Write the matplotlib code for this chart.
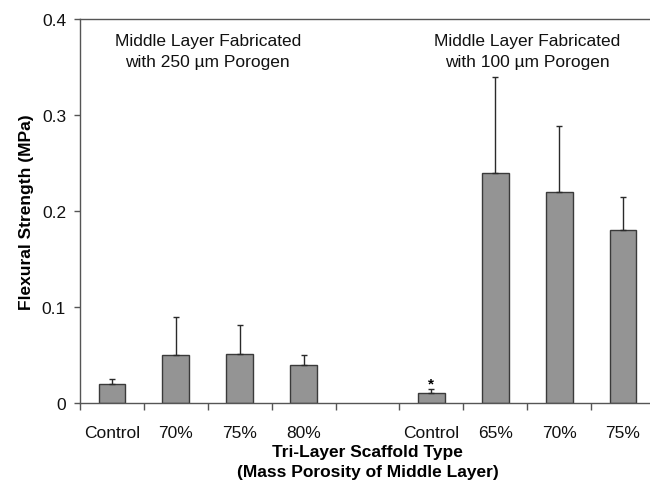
import numpy as np
import matplotlib
matplotlib.use("Agg")
import matplotlib.pyplot as plt

plt.rcParams['font.family'] = ['Liberation Sans', 'DejaVu Sans']

# Scaffold groups (empty slot separates the two porogen sizes)
categories = ["Control", "70%", "75%", "80%", "", "Control", "65%", "70%", "75%"]
strength = [0.020, 0.050, 0.051, 0.040, np.nan, 0.010, 0.240, 0.220, 0.180]
strength_sd = [0.005, 0.040, 0.030, 0.010, np.nan, 0.005, 0.100, 0.069, 0.035]
group_notes = ["Middle Layer Fabricated\nwith 250 µm Porogen",
               "Middle Layer Fabricated\nwith 100 µm Porogen"]
significant = [5]

fig = plt.figure(figsize=(6.5, 4.81), dpi=100)
ax = fig.add_axes([80 / 650, 1 - 404 / 481, 575 / 650, 384 / 481])

x = np.arange(len(categories))
vals = np.array(strength, dtype=float)
errs = np.array(strength_sd, dtype=float)
mask = ~np.isnan(vals)

ax.bar(x[mask], vals[mask], width=0.42, color="#949494", edgecolor="#3a3a3a",
       linewidth=1.0, zorder=2)
ax.errorbar(x[mask], vals[mask], yerr=[np.zeros(mask.sum()), errs[mask]],
            fmt="none", ecolor="#2a2a2a", elinewidth=1.0, capsize=2.5,
            capthick=1.0, zorder=3)

for i in significant:
    ax.annotate("*", (x[i], vals[i] + errs[i]), xytext=(0, -1),
                textcoords="offset points", ha="center", va="bottom",
                fontsize=11, fontweight="bold")

ax.set_xlim(-0.5, len(categories) - 0.5)
ax.set_ylim(0, 0.4)
ax.set_yticks([0, 0.1, 0.2, 0.3, 0.4])
ax.set_yticklabels(["0", "0.1", "0.2", "0.3", "0.4"])

ax.set_xticks(x)
ax.set_xticklabels(categories)
ax.set_xticks(np.arange(len(categories) + 1) - 0.5, minor=True)
ax.tick_params(axis="x", which="major", length=0, pad=16, labelsize=12.5,
               colors="#111111")
ax.tick_params(axis="x", which="minor", length=5, width=1, color="#555555",
               direction="out")
ax.tick_params(axis="y", length=4, width=1, color="#555555", pad=6,
               labelsize=12.5, labelcolor="#111111")

for side in ["left", "bottom", "top", "right"]:
    ax.spines[side].set_color("#555555")
    ax.spines[side].set_linewidth(1.0)

ax.set_ylabel("Flexural Strength (MPa)", fontsize=12.5, fontweight="bold",
              labelpad=6)
ax.set_xlabel("Tri-Layer Scaffold Type\n(Mass Porosity of Middle Layer)",
              fontsize=12.5, fontweight="bold", labelpad=3, linespacing=1.35)

for xc, note in zip([1.5, 6.5], group_notes):
    ax.text(xc, 0.385, note, ha="center", va="top", fontsize=12.5,
            linespacing=1.45, color="#111111")

fig.savefig("out.png", dpi=100)
